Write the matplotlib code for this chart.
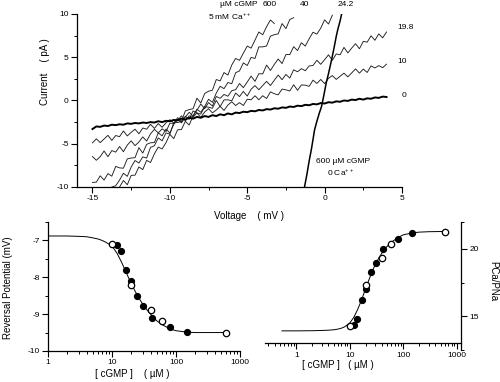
import matplotlib
matplotlib.use('Agg')
import matplotlib.pyplot as plt
from matplotlib.ticker import MultipleLocator, FixedLocator, NullFormatter, LogLocator

plt.rcParams['font.family'] = ['Liberation Sans', 'DejaVu Sans']
plt.rcParams['axes.unicode_minus'] = False
plt.rcParams['mathtext.default'] = 'regular'

# ---- top panel: I-V traces (voltage ramp samples, mV) ----
volt = [-15.0, -14.75, -14.5, -14.25, -14.0, -13.75, -13.5, -13.25, -13.0, -12.75,
        -12.5, -12.25, -12.0, -11.75, -11.5, -11.25, -11.0, -10.75, -10.5, -10.25,
        -10.0, -9.75, -9.5, -9.25, -9.0, -8.75, -8.5, -8.25, -8.0, -7.75,
        -7.5, -7.25, -7.0, -6.75, -6.5, -6.25, -6.0, -5.75, -5.5, -5.25,
        -5.0, -4.75, -4.5, -4.25, -4.0, -3.75, -3.5, -3.25, -3.0, -2.75,
        -2.5, -2.25, -2.0, -1.75, -1.5, -1.25, -1.0, -0.75, -0.5, -0.25,
        0.0, 0.25, 0.5, 0.75, 1.0, 1.25, 1.5, 1.75, 2.0, 2.25,
        2.5, 2.75, 3.0, 3.25, 3.5, 3.75, 4.0]

# 0 uM cGMP (leak)
i_0 = [-3.3, -3.0, -3.05, -2.9, -2.95, -2.8, -2.85, -2.75, -2.8, -2.65,
       -2.7, -2.6, -2.65, -2.55, -2.6, -2.5, -2.55, -2.4, -2.5, -2.35,
       -2.4, -2.25, -2.3, -2.1, -2.2, -2.0, -2.1, -1.9, -2.0, -1.8,
       -1.9, -1.7, -1.8, -1.6, -1.7, -1.5, -1.6, -1.4, -1.45, -1.3,
       -1.35, -1.2, -1.25, -1.1, -1.15, -1.0, -1.05, -0.9, -0.95, -0.8,
       -0.85, -0.7, -0.75, -0.6, -0.65, -0.5, -0.55, -0.4, -0.45, -0.3,
       -0.35, -0.2, -0.25, -0.1, -0.15, 0.0, -0.05, 0.1, 0.05, 0.2,
       0.1, 0.25, 0.2, 0.35, 0.3, 0.45, 0.4]
# 10 uM
i_10 = [-4.90, -4.43, -4.87, -4.45, -4.03, -4.62, -4.05, -4.18, -3.52, -4.10,
        -3.68, -3.32, -3.85, -3.18, -3.32, -2.75, -3.23, -2.67, -3.10, -2.58,
        -2.22, -2.60, -2.28, -1.77, -2.35, -1.78, -1.95, -1.43, -1.95, -1.33,
        -0.95, -1.43, -1.10, -0.68, -1.15, -0.53, -0.15, -0.58, -0.25, -0.58,
        0.15, 0.08, 0.55, 0.08, 0.55, 0.23, 1.00, 0.78, 0.65, 1.32,
        1.23, 1.10, 1.82, 1.18, 1.80, 1.77, 1.63, 2.35, 1.97, 2.43,
        1.95, 2.56, 2.88, 2.44, 2.80, 3.16, 2.73, 3.19, 3.65, 3.16,
        3.63, 3.24, 4.00, 3.76, 4.03, 3.79, 4.20]
# 19.8 uM
i_198 = [-6.48, -6.91, -6.49, -5.84, -6.50, -5.79, -5.97, -5.32, -5.92, -5.15,
         -4.67, -5.22, -4.80, -4.21, -4.69, -3.86, -3.33, -3.75, -3.28, -3.59,
         -2.63, -2.64, -1.99, -2.47, -1.82, -2.18, -1.21, -1.45, -1.57, -0.72,
         -0.78, -0.90, 0.01, -0.71, 0.07, 0.08, -0.04, 0.86, 0.45, 1.05,
         0.51, 1.30, 1.72, 1.24, 1.73, 2.21, 1.73, 2.34, 2.94, 2.40,
         3.01, 2.59, 3.55, 3.32, 3.68, 3.44, 3.99, 4.05, 4.65, 4.18,
         4.72, 5.28, 4.64, 5.38, 5.28, 6.14, 5.50, 6.06, 6.56, 5.98,
         6.84, 6.74, 7.48, 6.96, 7.70, 7.24, 7.92]
# 24.2 uM (-15 .. 0.5 mV)
i_242 = [-9.47, -9.44, -8.71, -9.20, -8.45, -8.75, -7.62, -7.79, -7.83, -6.75,
         -6.65, -6.61, -5.46, -6.08, -5.07, -4.89, -4.86, -3.76, -4.08, -3.30,
         -3.76, -2.78, -2.19, -2.59, -1.93, -1.36, -1.83, -1.12, -0.41, -0.95,
         -0.24, -0.64, 0.46, 0.25, 0.70, 0.49, 1.13, 1.25, 1.96, 1.49,
         2.13, 2.82, 2.21, 3.10, 3.07, 4.09, 3.47, 4.17, 4.79, 4.27,
         5.31, 5.31, 6.22, 5.77, 6.68, 6.29, 7.13, 7.89, 7.67, 8.37,
         9.32, 8.84, 9.86]
# 40 uM (-13.25 .. -2 mV)
i_40 = [-10.0, -9.25, -9.74, -8.66, -8.63, -7.68, -7.99, -6.92, -7.17, -6.17,
        -5.39, -5.60, -4.88, -3.91, -4.41, -3.39, -3.36, -2.41, -2.84, -1.75,
        -1.01, -1.36, -0.68, 0.14, -0.21, 0.86, 1.64, 1.37, 2.08, 1.94,
        3.21, 3.42, 4.35, 4.04, 4.98, 4.86, 6.19, 6.20, 6.30, 7.44,
        7.61, 7.70, 8.89, 8.31, 9.36, 9.57]
# 600 uM (-13.75 .. -3.25 mV)
i_600 = [-10.0, -9.86, -9.20, -8.41, -8.77, -7.69, -6.94, -7.23, -6.52, -6.66,
         -5.42, -5.23, -4.33, -4.66, -3.75, -3.89, -2.57, -2.55, -2.41, -1.21,
         -1.05, -0.95, 0.26, -0.29, 0.81, 1.07, 1.19, 2.42, 2.27, 3.23,
         2.94, 4.10, 4.86, 4.64, 5.47, 6.29, 6.05, 6.98, 7.92, 7.60,
         8.53, 9.30, 8.90]
# 600 uM cGMP, 0 Ca
steep_v = [-1.3, -1.15, -1.0, -0.85, -0.65, -0.5, -0.35, -0.2, -0.05, 0.1,
           0.25, 0.45, 0.6, 0.75, 0.85, 1.0, 1.1]
steep_i = [-10.0, -8.6, -7.0, -5.6, -3.4, -2.4, -1.5, -0.7, 0.6, 2.0,
           3.1, 4.7, 6.0, 7.4, 8.2, 9.2, 10.0]

# ---- bottom panels ----
open_c = [10, 19.8, 40, 60, 600]
filled_c = [12, 13.8, 16.6, 19.8, 24.4, 31, 41.8, 80, 148]
erev_open = [-7.1, -8.2, -8.9, -9.2, -9.5]
erev_filled = [-7.12, -7.3, -7.8, -8.1, -8.5, -8.78, -9.1, -9.35, -9.48]
ratio_open = [14.29, 17.33, 19.36, 20.34, 21.25]
ratio_filled = [14.34, 14.83, 16.18, 17.03, 18.26, 18.99, 20.02, 20.71, 21.15]

fit_c = [1, 2, 3, 4, 5, 6, 7, 8, 10, 12, 14, 16, 18, 20, 23, 26, 30, 35, 40,
         50, 60, 80, 100, 150, 200, 300, 600]
fit_erev = [-6.88, -6.88, -6.89, -6.9, -6.93, -6.96, -7.0, -7.05, -7.15, -7.35,
            -7.58, -7.8, -8.0, -8.17, -8.38, -8.55, -8.72, -8.88, -9.0,
            -9.18, -9.28, -9.4, -9.45, -9.49, -9.5, -9.5, -9.5]
fit_c2 = [0.54, 1, 2, 3, 4, 5, 6, 7, 8, 10, 12, 14, 16, 18, 20, 23, 26, 30, 35,
          40, 50, 60, 80, 100, 150, 200, 300, 600]
fit_ratio = [13.92, 13.92, 13.93, 13.95, 13.97, 14.0, 14.05, 14.12, 14.22, 14.5,
             14.95, 15.5, 16.05, 16.6, 17.1, 17.75, 18.3, 18.85, 19.35,
             19.7, 20.2, 20.5, 20.85, 21.05, 21.2, 21.25, 21.28, 21.3]

fig = plt.figure(figsize=(5.0, 3.82), dpi=100, facecolor='white')

# ---- top ----
ax1 = fig.add_axes([0.154, 0.5105, 0.65, 0.4529])
trace_col = '#1e1e1e'
ax1.plot(volt[5:48], i_600, color=trace_col, linewidth=0.65)
ax1.plot(volt[7:53], i_40, color=trace_col, linewidth=0.65)
ax1.plot(volt[0:63], i_242, color=trace_col, linewidth=0.65)
ax1.plot(volt, i_198, color=trace_col, linewidth=0.65)
ax1.plot(volt, i_10, color=trace_col, linewidth=0.65)
ax1.plot(volt, i_0, color='black', linewidth=1.4)
ax1.plot(steep_v, steep_i, color='black', linewidth=1.1)

ax1.set_xlim(-16, 5)
ax1.set_ylim(-10, 10)
ax1.set_xticks([-15, -10, -5, 0, 5])
ax1.set_yticks([-10, -5, 0, 5, 10])
ax1.xaxis.set_minor_locator(MultipleLocator(2.5))
ax1.yaxis.set_minor_locator(MultipleLocator(2.5))
ax1.spines['top'].set_visible(False)
ax1.spines['right'].set_visible(False)

ax1.set_xlabel('Voltage    ( mV )', fontsize=7)
ax1.xaxis.set_label_coords(0.529, -0.139)
ax1.set_ylabel('Current    ( pA )', fontsize=7)
ax1.yaxis.set_label_coords(-0.083, 0.665)

tk = dict(fontsize=6, color='black', clip_on=False)
ax1.text(-4.3, 11.05, u'\u00b5M cGMP', va='center', ha='right', **tk)
ax1.text(-3.55, 11.05, '600', va='center', ha='center', **tk)
ax1.text(-1.27, 11.05, '40', va='center', ha='center', **tk)
ax1.text(1.38, 11.05, '24.2', va='center', ha='center', **tk)
ax1.text(-7.54, 9.65, r'5 mM Ca$^{++}$', va='center', ha='left', **tk)
ax1.text(4.68, 8.38, '19.8', va='center', ha='left', **tk)
ax1.text(4.68, 4.45, '10', va='center', ha='left', **tk)
ax1.text(4.95, 0.52, '0', va='center', ha='left', **tk)
ax1.text(-0.58, -7.11, u'600 \u00b5M cGMP', va='center', ha='left', **tk)
ax1.text(0.13, -8.32, r'0 Ca$^{++}$', va='center', ha='left', **tk)

# ---- bottom left ----
ax2 = fig.add_axes([0.096, 0.0812, 0.384, 0.3377])
ax2.set_facecolor('none')
ax2.set_xscale('log')
ax2.plot(fit_c, fit_erev, color='black', linewidth=0.7, zorder=1)
ax2.plot(filled_c, erev_filled, 'o', color='black', markersize=4.2, zorder=3)
ax2.plot(open_c, erev_open, 'o', markerfacecolor='white', markeredgecolor='black',
         markeredgewidth=0.9, markersize=4.6, zorder=3)
ax2.set_xlim(1, 1000)
ax2.set_ylim(-10, -6.5)
ax2.set_yticks([-10, -9, -8, -7])
ax2.yaxis.set_minor_locator(MultipleLocator(0.5))
ax2.set_xticks([1, 10, 100, 1000], ['1', '10', '100', '1000'])
ax2.xaxis.set_minor_locator(LogLocator(base=10, subs=range(2, 10)))
ax2.xaxis.set_minor_formatter(NullFormatter())
ax2.spines['top'].set_visible(False)
ax2.spines['right'].set_visible(False)
ax2.set_xlabel(u'[ cGMP ]    ( \u00b5M )', fontsize=7)
ax2.xaxis.set_label_coords(0.4375, -0.14)
ax2.set_ylabel('Reversal Potential (mV)', fontsize=7)
ax2.yaxis.set_label_coords(-0.182, 0.49)

# ---- bottom right ----
ax3 = fig.add_axes([0.53, 0.0838, 0.392, 0.335])
ax3.set_facecolor('none')
ax3.set_xscale('log')
ax3.plot(fit_c2, fit_ratio, color='black', linewidth=0.7, zorder=1)
ax3.plot(filled_c, ratio_filled, 'o', color='black', markersize=4.2, zorder=3)
ax3.plot(open_c, ratio_open, 'o', markerfacecolor='white', markeredgecolor='black',
         markeredgewidth=0.9, markersize=4.6, zorder=3)
ax3.set_xlim(0.26, 1200)
ax3.set_ylim(12.5, 22)
ax3.yaxis.tick_right()
ax3.yaxis.set_label_position('right')
ax3.set_yticks([15, 20])
ax3.yaxis.set_minor_locator(FixedLocator([12.5, 17.5, 22]))
ax3.set_xticks([1, 10, 100, 1000], ['1', '10', '100', '1000'])
ax3.xaxis.set_minor_locator(LogLocator(base=10, subs=range(2, 10)))
ax3.xaxis.set_minor_formatter(NullFormatter())
ax3.spines['top'].set_visible(False)
ax3.spines['left'].set_visible(False)
ax3.spines['bottom'].set_position(('data', 13.0))
ax3.set_xlabel(u'[ cGMP ]   ( \u00b5M )', fontsize=7)
ax3.xaxis.set_label_coords(0.372, -0.078)
ax3.set_ylabel('PCa/PNa', fontsize=7, rotation=270)
ax3.yaxis.set_label_coords(1.19, 0.54)

for ax in (ax1, ax2, ax3):
    for s in ax.spines.values():
        s.set_linewidth(0.9)
    ax.tick_params(which='major', direction='out', length=4.5, width=0.8,
                   labelsize=6, pad=1.5)
    ax.tick_params(which='minor', direction='out', length=2.5, width=0.7)

fig.savefig('out.png', dpi=100, facecolor='white')
